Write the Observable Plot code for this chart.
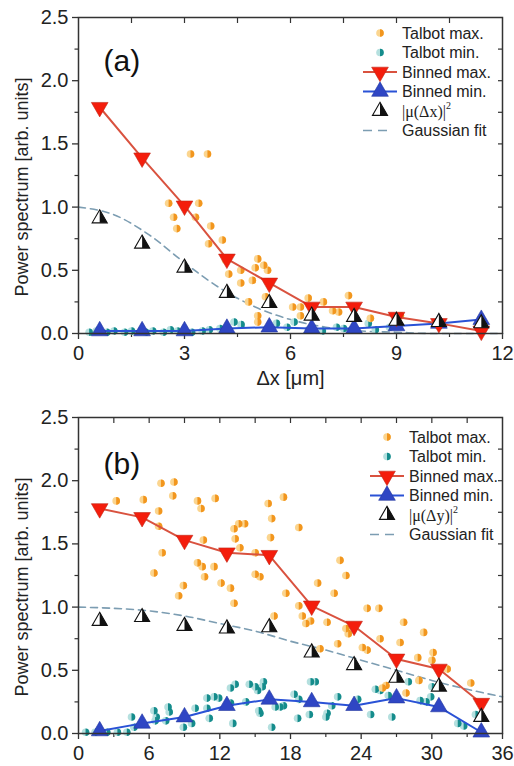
<!DOCTYPE html>
<html><head><meta charset="utf-8">
<script src="https://cdn.jsdelivr.net/npm/d3@7"></script>
<script src="https://cdn.jsdelivr.net/npm/@observablehq/plot@0.6"></script>
<style>
body{margin:0;background:#fff;}
#chart{position:relative;width:514px;height:766px;}
#chart svg{display:block;}
</style></head><body><div id="chart"></div>
<script>
// ---------- Panel (a) data ----------
const aBinX   = [0.6, 1.8, 3.0, 4.2, 5.4, 6.6, 7.8, 9.0, 10.2, 11.4];
const aBinMax = [1.79, 1.39, 1.01, 0.59, 0.40, 0.21, 0.21, 0.13, 0.08, 0.02];
const aBinMin = [0.02, 0.02, 0.02, 0.04, 0.05, 0.04, 0.04, 0.06, 0.08, 0.11];
const aMu     = [0.91, 0.71, 0.52, 0.32, 0.24, 0.14, 0.13, 0.10, 0.09, 0.08];
const aTalbotMaxX = [3.17, 3.65, 2.55, 3.40, 2.69, 3.31, 2.78, 3.74, 3.68, 4.07, 4.16, 4.25, 4.59, 4.59, 4.92, 5.07, 5.24, 5.35, 5.00, 4.81, 5.07, 5.29, 5.07, 6.06, 6.28, 6.50, 6.93, 7.19, 7.36, 7.64, 6.28, 8.26, 9.11, 10.2];
const aTalbotMaxY = [1.42, 1.42, 1.03, 1.03, 0.92, 0.92, 0.83, 0.85, 0.71, 0.74, 0.58, 0.47, 0.50, 0.40, 0.42, 0.59, 0.54, 0.50, 0.52, 0.25, 0.09, 0.29, 0.14, 0.21, 0.21, 0.28, 0.25, 0.18, 0.17, 0.30, 0.14, 0.12, 0.14, 0.06];
const aTalbotMinX = [0.3, 0.5, 0.8, 1.0, 1.3, 1.5, 1.9, 2.1, 2.4, 2.6, 2.8, 3.2, 3.5, 3.7, 4.0, 4.4, 4.6, 5.6, 5.9, 6.1, 6.5, 6.9, 7.3, 7.5, 8.2, 8.4, 8.8];
const aTalbotMinY = [0.01, 0.02, 0.01, 0.02, 0.01, 0.02, 0.01, 0.02, 0.01, 0.03, 0.02, 0.01, 0.02, 0.03, 0.04, 0.09, 0.07, 0.08, 0.05, 0.09, 0.03, 0.02, 0.05, 0.04, 0.08, 0.03, 0.05];
const aFitX = [0, 1, 2, 3, 4, 5, 6, 7, 8, 9, 10, 11, 12];
const aFitY = [1.0, 0.94, 0.78, 0.56, 0.36, 0.21, 0.11, 0.05, 0.02, 0.01, 0.0, 0.0, 0.0];
const aXTicks = [0, 3, 6, 9, 12];

// ---------- Panel (b) data ----------
const bBinX   = [1.8, 5.4, 9.0, 12.6, 16.2, 19.8, 23.4, 27.0, 30.6, 34.2];
const bBinMax = [1.78, 1.71, 1.53, 1.43, 1.41, 1.01, 0.85, 0.59, 0.51, 0.24];
const bBinMin = [0.02, 0.08, 0.13, 0.22, 0.27, 0.25, 0.22, 0.28, 0.21, 0.01];
const bMu     = [0.89, 0.92, 0.85, 0.83, 0.84, 0.64, 0.54, 0.44, 0.37, 0.13];
const bTalbotMaxX = [3.2, 5.5, 7.0, 8.1, 8.0, 6.8, 10.1, 10.4, 11.6, 6.8, 7.1, 6.4, 10.1, 10.5, 11.5, 10.7, 8.9, 8.5, 10.6, 12.1, 12.9, 13.2, 13.6, 14.1, 13.3, 13.7, 15.0, 15.0, 15.4, 16.1, 16.4, 16.3, 13.2, 17.4, 18.7, 22.2, 22.7, 20.3, 17.6, 21.7, 18.7, 19.0, 19.3, 19.7, 21.1, 16.6, 24.5, 25.5, 22.7, 22.9, 25.6, 22.0, 24.1, 24.5, 27.6, 29.3, 27.3, 20.5, 28.8, 30.1, 30.0, 31.3, 26.1, 25.8, 27.8, 28.9, 33.3];
const bTalbotMaxY = [1.84, 1.85, 1.98, 1.99, 1.88, 1.76, 1.84, 1.78, 1.86, 1.64, 1.43, 1.27, 1.35, 1.32, 1.32, 1.24, 1.17, 1.09, 1.53, 1.19, 1.15, 1.62, 1.66, 1.66, 1.54, 1.47, 1.43, 1.26, 1.24, 1.82, 1.70, 1.55, 1.03, 1.87, 1.63, 1.37, 1.25, 1.19, 1.11, 1.11, 1.01, 0.93, 0.87, 0.89, 0.88, 0.93, 0.99, 0.99, 0.83, 0.79, 0.75, 0.71, 0.68, 0.66, 0.88, 0.80, 0.72, 0.67, 0.60, 0.64, 0.58, 0.51, 0.38, 0.36, 0.32, 0.42, 0.40];
const bTalbotMinX = [0.6, 1.4, 2.4, 3.3, 4.1, 4.5, 4.7, 6.4, 6.5, 7.6, 7.7, 6.6, 7.4, 8.9, 9.6, 9.9, 10.9, 11.1, 10.9, 11.5, 11.9, 12.9, 13.1, 12.9, 13.3, 14.5, 15.2, 14.2, 15.3, 15.0, 15.6, 15.7, 16.7, 17.1, 17.4, 16.4, 15.4, 18.3, 18.7, 18.6, 19.7, 20.1, 19.6, 21.0, 21.1, 22.0, 21.5, 23.7, 24.8, 25.2, 25.6, 26.3, 26.6, 28.0, 29.0, 29.5, 29.9, 30.0, 32.2, 32.7, 33.7];
const bTalbotMinY = [0.01, 0.01, 0.01, 0.01, 0.01, 0.13, 0.05, 0.18, 0.10, 0.21, 0.17, 0.13, 0.10, 0.05, 0.08, 0.20, 0.20, 0.12, 0.28, 0.29, 0.28, 0.24, 0.08, 0.36, 0.39, 0.39, 0.34, 0.25, 0.18, 0.37, 0.37, 0.41, 0.21, 0.21, 0.22, 0.05, 0.16, 0.31, 0.27, 0.12, 0.41, 0.41, 0.15, 0.13, 0.16, 0.29, 0.22, 0.27, 0.15, 0.35, 0.34, 0.30, 0.13, 0.41, 0.26, 0.25, 0.29, 0.37, 0.08, 0.06, 0.15];
const bFitX = [0, 3, 6, 9, 12, 15, 18, 21, 24, 27, 30, 33, 36];
const bFitY = [1.0, 0.99, 0.97, 0.93, 0.87, 0.81, 0.73, 0.66, 0.58, 0.50, 0.42, 0.35, 0.29];
const bXTicks = [0, 6, 12, 18, 24, 30, 36];

const yTicks = [0, 0.5, 1.0, 1.5, 2.0, 2.5];
const yMinor = [0.25, 0.75, 1.25, 1.75, 2.25];
const yRight = [0.25, 0.5, 0.75, 1.0, 1.25, 1.5, 1.75, 2.0, 2.25];

const yTitle = "Power spectrum [arb. units]";
const legendLabels = ["Talbot max.", "Talbot min.", "Binned max.", "Binned min.", null, "Gaussian fit"];

// ---------- styles ----------
const ORANGE = "#f2961e", ORANGE_L = "#fbd58f";
const TEAL = "#158c8c", TEAL_L = "#b5e0df";
const RED_LINE = "#d9523f", RED_FILL = "#f41d0c";
const BLUE_LINE = "#2a52d6", BLUE_FILL = "#2f46c4";
const FIT = "#7c9db2";
const FONT = "'Liberation Sans', Arial, Helvetica, sans-serif";

const halfRight = {
  draw(ctx, size) {
    const r = Math.sqrt(size / Math.PI);
    ctx.moveTo(0, -r);
    ctx.arc(0, 0, r, -Math.PI / 2, Math.PI / 2);
    ctx.closePath();
  }
};
const halfTri = {
  draw(ctx, size) {
    const s3 = Math.sqrt(3);
    const y = -Math.sqrt(size / (s3 * 3));
    ctx.moveTo(0, y * 2);
    ctx.lineTo(-s3 * y, -y);
    ctx.lineTo(0, -y);
    ctx.closePath();
  }
};

function rows(xs, ys) { return xs.map((x, i) => ({x, y: ys[i]})); }

function panel(o) {
  const bins = o.binX.map((x, i) => ({x, max: o.binMax[i], min: o.binMin[i], mu: o.mu[i]}));
  const tmax = rows(o.tmX, o.tmY), tmin = rows(o.tnX, o.tnY), fit = rows(o.fitX, o.fitY);
  const R = 3.8;
  const marks = [
    Plot.axisY({ticks: yTicks, tickSize: 6, tickPadding: 4, tickFormat: d => d.toFixed(1), label: null, fontSize: 20, stroke: "#333", strokeWidth: 1.3}),
    Plot.axisY({ticks: yMinor, tickSize: 3.5, fill: "none", label: null, stroke: "#333", strokeWidth: 1.2}),
    Plot.axisY({anchor: "right", ticks: yRight, tickSize: -5, fill: "none", label: null, stroke: "#333", strokeWidth: 1.2}),
    Plot.axisX({ticks: o.xTicks, tickSize: 6, tickPadding: 6, label: null, fontSize: 20, stroke: "#333", strokeWidth: 1.3}),
    Plot.axisX({ticks: o.xMinor, tickSize: 4, fill: "none", label: null, stroke: "#333", strokeWidth: 1.2}),
    Plot.axisX({anchor: "top", ticks: o.xTop, tickSize: -5, fill: "none", label: null, stroke: "#333", strokeWidth: 1.2}),
    Plot.line(fit, {x: "x", y: "y", stroke: FIT, strokeWidth: 1.6, strokeDasharray: "7,5", curve: "monotone-x"}),
    Plot.dot(tmin, {x: "x", y: "y", r: R, fill: TEAL_L}),
    Plot.dot(tmin, {x: "x", y: "y", r: R, fill: TEAL, symbol: halfRight}),
    Plot.dot(tmax, {x: "x", y: "y", r: R, fill: ORANGE_L}),
    Plot.dot(tmax, {x: "x", y: "y", r: R, fill: ORANGE, symbol: halfRight}),
    Plot.line(bins, {x: "x", y: "min", stroke: BLUE_LINE, strokeWidth: 2}),
    Plot.dot(bins, {x: "x", y: "min", symbol: "triangle", r: 6.2, fill: BLUE_FILL, stroke: "#2438a0", strokeWidth: 0.6}),
    Plot.line(bins, {x: "x", y: "max", stroke: RED_LINE, strokeWidth: 2}),
    Plot.dot(bins, {x: "x", y: "max", symbol: "triangle", rotate: 180, r: 6.2, fill: RED_FILL, stroke: "#c02818", strokeWidth: 0.6}),
    Plot.dot(bins, {x: "x", y: "mu", symbol: "triangle", r: 5.6, fill: "white", stroke: "#111", strokeWidth: 1.1}),
    Plot.dot(bins, {x: "x", y: "mu", symbol: halfTri, r: 5.6, fill: "#111"}),
    Plot.frame({stroke: "#333", strokeWidth: 1.5}),
    Plot.text([o.letter], {frameAnchor: "top-left", dx: 25, dy: o.letterDy, fontSize: 30, textAnchor: "start", fill: "#111"})
  ];
  if (o.xLabel) marks.push(Plot.text([o.xLabel], {frameAnchor: "bottom", dy: 51, fontSize: 20, fill: "#222"}));
  const svg = Plot.plot({
    width: 514, height: o.height,
    marginLeft: 78, marginRight: 12, marginTop: 17, marginBottom: o.marginBottom,
    style: {fontFamily: FONT, fontSize: "20px", color: "#222", background: "transparent", overflow: "visible"},
    x: {domain: o.xDomain},
    y: {domain: [0, 2.5]},
    marks
  });
  const cy = 17 + (o.height - 17 - o.marginBottom) / 2 + 12;
  d3.select(svg).append("text")
    .attr("transform", `translate(22,${cy}) rotate(-90)`)
    .attr("text-anchor", "middle").attr("dy", "0.35em")
    .attr("font-family", FONT).attr("font-size", 18).attr("fill", "#222")
    .text(yTitle);
  legend(svg, o.legX, o.legY, o.muLabel);
  return svg;
}

function legend(svg, x0, y0, muVar) {
  const g = d3.select(svg).append("g").attr("font-family", FONT).attr("font-size", 16).attr("fill", "#222").attr("text-anchor", "start");
  const step = 19.5, tx = x0 + 22;
  const sym = (type, r) => d3.symbol(type, Math.PI * r * r)();
  const at = (i) => y0 + i * step;
  [[ORANGE_L, ORANGE], [TEAL_L, TEAL]].forEach(([l, d], i) => {
    g.append("path").attr("d", sym(d3.symbolCircle, 3.8)).attr("fill", l).attr("transform", `translate(${x0},${at(i)})`);
    g.append("path").attr("d", sym(halfRight, 3.8)).attr("fill", d).attr("transform", `translate(${x0},${at(i)})`);
  });
  g.append("line").attr("x1", x0 - 17).attr("x2", x0 + 17).attr("y1", at(2)).attr("y2", at(2)).attr("stroke", RED_LINE).attr("stroke-width", 2);
  g.append("path").attr("d", sym(d3.symbolTriangle, 6.2)).attr("fill", RED_FILL).attr("stroke", "#c02818").attr("stroke-width", 0.6).attr("transform", `translate(${x0},${at(2)}) rotate(180)`);
  g.append("line").attr("x1", x0 - 17).attr("x2", x0 + 17).attr("y1", at(3)).attr("y2", at(3)).attr("stroke", BLUE_LINE).attr("stroke-width", 2);
  g.append("path").attr("d", sym(d3.symbolTriangle, 6.2)).attr("fill", BLUE_FILL).attr("stroke", "#2438a0").attr("stroke-width", 0.6).attr("transform", `translate(${x0},${at(3)})`);
  g.append("path").attr("d", sym(d3.symbolTriangle, 5.6)).attr("fill", "white").attr("stroke", "#111").attr("stroke-width", 1.1).attr("transform", `translate(${x0},${at(4)})`);
  g.append("path").attr("d", sym(halfTri, 5.6)).attr("fill", "#111").attr("transform", `translate(${x0},${at(4)})`);
  g.append("line").attr("x1", x0 - 17).attr("x2", x0 + 7).attr("y1", at(5)).attr("y2", at(5)).attr("stroke", FIT).attr("stroke-width", 1.6).attr("stroke-dasharray", "9,6");
  legendLabels.forEach((t, i) => {
    if (t === null) {
      const txt = g.append("text").attr("x", tx).attr("y", at(i)).attr("dy", "0.35em").attr("font-family", "'Liberation Serif', 'Times New Roman', serif").attr("font-size", 16);
      txt.append("tspan").text(`|μ(${muVar})|`);
      txt.append("tspan").attr("font-size", 10).attr("dy", "-0.75em").text("2");
    } else {
      g.append("text").attr("x", tx).attr("y", at(i)).attr("dy", "0.35em").text(t);
    }
  });
}

const chart = document.getElementById("chart");
chart.append(panel({
  binX: aBinX, binMax: aBinMax, binMin: aBinMin, mu: aMu,
  tmX: aTalbotMaxX, tmY: aTalbotMaxY, tnX: aTalbotMinX, tnY: aTalbotMinY,
  fitX: aFitX, fitY: aFitY,
  xDomain: [0, 12], xTicks: aXTicks, xMinor: [1.5, 4.5, 7.5, 10.5], xTop: [1.5, 3, 4.5, 6, 7.5, 9, 10.5],
  height: 400, marginBottom: 67, letter: "(a)", letterDy: 32, xLabel: "Δx [μm]",
  legX: 380, legY: 33, muLabel: "Δx"
}));
chart.append(panel({
  binX: bBinX, binMax: bBinMax, binMin: bBinMin, mu: bMu,
  tmX: bTalbotMaxX, tmY: bTalbotMaxY, tnX: bTalbotMinX, tnY: bTalbotMinY,
  fitX: bFitX, fitY: bFitY,
  xDomain: [0, 36], xTicks: bXTicks, xMinor: [3, 9, 15, 21, 27, 33], xTop: [3, 6, 9, 12, 15, 18, 21, 24, 27, 30, 33],
  height: 366, marginBottom: 33, letter: "(b)", letterDy: 35, xLabel: null,
  legX: 387, legY: 37, muLabel: "Δy"
}));
</script>
</body></html>
